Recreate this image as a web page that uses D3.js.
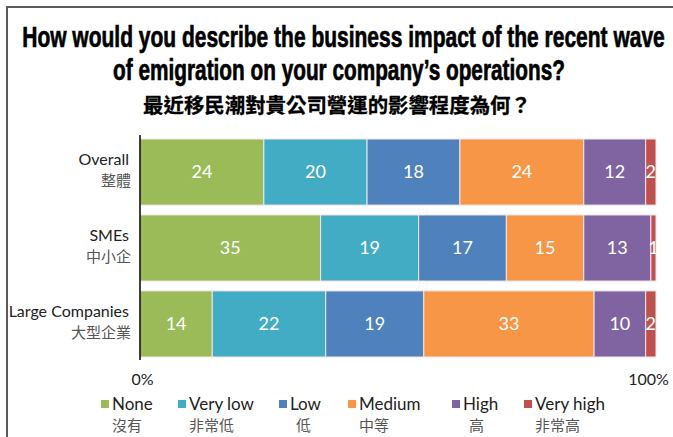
<!DOCTYPE html>
<html>
<head>
<meta charset="utf-8">
<script src="https://cdn.jsdelivr.net/npm/d3@7"></script>
<style>
  html, body { margin: 0; padding: 0; background: #fff; }
  svg { display: block; }
  .lbl { font-family: Lato, "Open Sans", "Noto Sans", sans-serif; }
  .cjk { font-family: "Noto Sans CJK TC", "Noto Sans CJK SC", sans-serif; }
</style>
</head>
<body>
<svg id="chart" width="673" height="437"></svg>
<script>
// Survey groups (English / Chinese)
const categories = ["Overall", "SMEs", "Large Companies"];
const categoriesZh = ["整體", "中小企", "大型企業"];

// Impact levels (English / Chinese)
const levels = ["None", "Very low", "Low", "Medium", "High", "Very high"];
const levelsZh = ["沒有", "非常低", "低", "中等", "高", "非常高"];
const levelColors = ["#9BBB59", "#43ACC5", "#4F81BD", "#F79646", "#8064A2", "#C0504D"];

// Share of respondents (%) per level, one array per level in group order
const none     = [24, 35, 14];
const veryLow  = [20, 19, 22];
const low      = [18, 17, 19];
const medium   = [24, 15, 33];
const high     = [12, 13, 10];
const veryHigh = [2, 1, 2];

const tickLabels = ["0%", "100%"];

const titleLines = [
  "How would you describe the business impact of the recent wave",
  "of emigration on your company\u2019s operations?"
];
const titleZh = "最近移民潮對貴公司營運的影響程度為何？";

const seriesValues = [none, veryLow, low, medium, high, veryHigh];
const rows = categories.map((c, i) => {
  const r = { category: c };
  levels.forEach((l, j) => { r[l] = seriesValues[j][i]; });
  return r;
});

const svg = d3.select("#chart");

// outer frame (left and top edges)
svg.append("path")
  .attr("d", "M7,437 L7,7 L673,7")
  .attr("fill", "none")
  .attr("stroke", "#5a5a5a")
  .attr("stroke-width", 2);

// titles: heading lines scaled horizontally around their centre to a set width
const titleFont = '"Liberation Sans Narrow", "Arial Narrow", "Liberation Sans", sans-serif';
function fitTitle(str, cx, baseline, width, size, cls, strokeW) {
  const g = svg.append("g");
  const t = g.append("text")
    .attr("x", 0).attr("y", 0)
    .attr("text-anchor", "middle")
    .style("font-weight", "bold").style("font-size", size + "px")
    .attr("fill", "#000").attr("stroke", "#000").attr("stroke-width", strokeW)
    .text(str);
  if (cls) t.attr("class", cls); else t.style("font-family", titleFont);
  const natural = t.node().getComputedTextLength();
  const k = width / natural;
  g.attr("transform", `translate(${cx},${baseline}) scale(${k},1)`);
}
fitTitle(titleLines[0], 343.5, 47, 643, 30, null, 0.7);
fitTitle(titleLines[1], 339, 80, 452, 30, null, 0.7);
fitTitle(titleZh, 337, 113, 388, 20, "cjk", 0.3);

// scales
const x = d3.scaleLinear().domain([0, 100]).range([140, 656]);
const y = d3.scaleBand().domain(categories).range([139, 357]).paddingInner(0.13);

const stack = d3.stack().keys(levels);
const series = stack(rows);

// bars
const groups = svg.append("g").selectAll("g")
  .data(series)
  .join("g")
  .attr("fill", (d, i) => levelColors[i]);

groups.selectAll("rect")
  .data(d => d.map(p => ({ p, cat: p.data.category })))
  .join("rect")
  .attr("x", d => x(d.p[0]))
  .attr("y", d => y(d.cat))
  .attr("width", d => x(d.p[1]) - x(d.p[0]))
  .attr("height", y.bandwidth())
  .attr("stroke", "#f3e6e6")
  .attr("stroke-width", 1);

// value labels
groups.selectAll("text")
  .data(d => d.map(p => ({ p, cat: p.data.category, v: p[1] - p[0] })))
  .join("text")
  .attr("class", "lbl")
  .attr("x", d => (x(d.p[0]) + x(d.p[1])) / 2)
  .attr("y", d => y(d.cat) + y.bandwidth() / 2 + 6)
  .attr("text-anchor", "middle")
  .attr("fill", "#fff")
  .style("font-size", "18px")
  .text(d => d.v);

// category axis line
svg.append("line")
  .attr("x1", 140).attr("x2", 140)
  .attr("y1", 135).attr("y2", 360)
  .attr("stroke", "#000").attr("stroke-width", 1.5);

// category labels
categories.forEach((c, i) => {
  const cy = y(c) + y.bandwidth() / 2;
  svg.append("text")
    .attr("class", "lbl")
    .attr("x", 129).attr("y", cy - 7)
    .attr("text-anchor", "end")
    .attr("fill", "#222")
    .style("font-size", "16px")
    .text(c);
  svg.append("text")
    .attr("class", "cjk")
    .attr("x", 131).attr("y", cy + 14)
    .attr("text-anchor", "end")
    .attr("fill", "#555")
    .style("font-size", "15px")
    .text(categoriesZh[i]);
});

// value axis tick labels
const xAxis = d3.axisBottom(x).tickValues([0, 100]).tickFormat((d, i) => tickLabels[i]).tickSize(0);
const ax = svg.append("g").attr("transform", "translate(0,371)").call(xAxis);
ax.select(".domain").remove();
ax.selectAll("text")
  .attr("class", "lbl")
  .attr("fill", "#222")
  .style("font-size", "16px")
  .attr("dx", (d, i) => i === 0 ? 2 : -8);

// legend
const legendX = [101, 178, 279, 348, 452, 524];
const legend = svg.append("g").selectAll("g")
  .data(levels)
  .join("g")
  .attr("transform", (d, i) => `translate(${legendX[i]},0)`);
legend.append("rect")
  .attr("x", 0).attr("y", 400)
  .attr("width", 8).attr("height", 8)
  .attr("fill", (d, i) => levelColors[i]);
legend.append("text")
  .attr("class", "lbl")
  .attr("x", 11).attr("y", 410)
  .attr("fill", "#222")
  .style("font-size", "17px")
  .text(d => d);
legend.append("text")
  .attr("class", "cjk")
  .attr("x", (d, i) => i === 2 || i === 4 ? 17 : 11).attr("y", 431)
  .attr("fill", "#555")
  .style("font-size", "15px")
  .text((d, i) => levelsZh[i]);
</script>
</body>
</html>
